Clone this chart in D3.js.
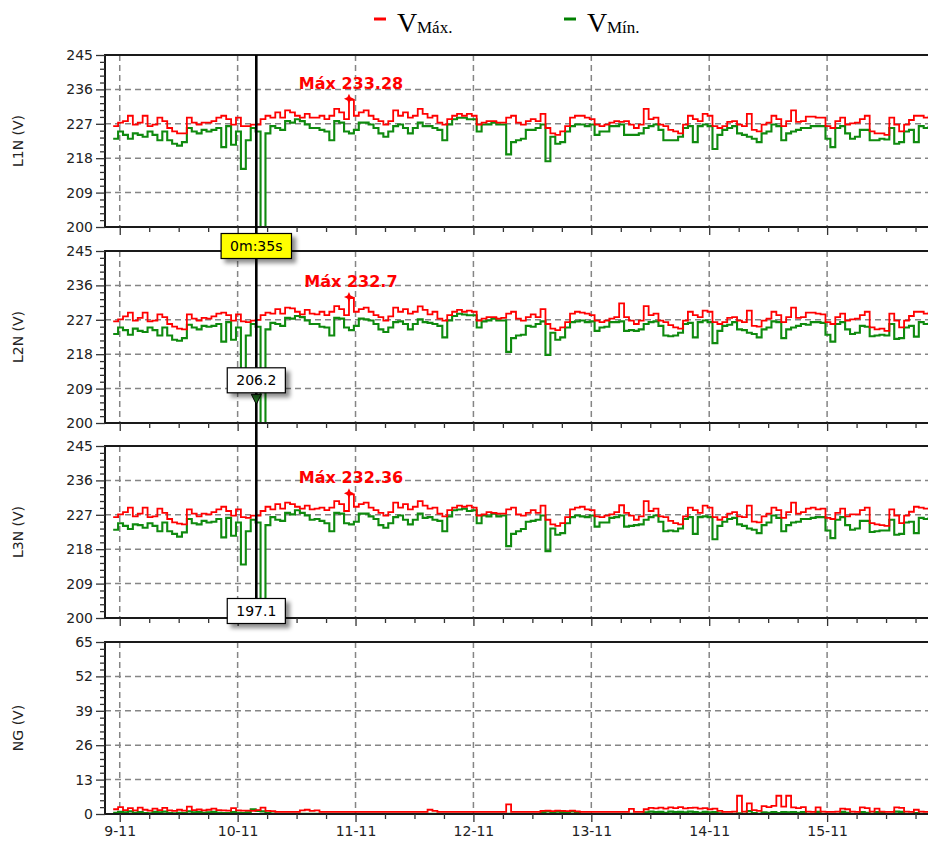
<!DOCTYPE html>
<html>
<head>
<meta charset="utf-8">
<script src="https://cdn.jsdelivr.net/npm/d3@7"></script>
<style>
  body { margin: 0; background: #fff; }
  svg { display: block; }
  text { font-family: "DejaVu Sans", sans-serif; }
</style>
</head>
<body>
<svg id="chart" width="928" height="841"></svg>
<script>
// ---- Hourly voltage records (V) from 8-11 22:40 onward ----
const l1Max = [
  226.4,227.3,227.7,229.1,226.8,227.3,229.1,226.4,226.8,228.6,227.7,225.9,225.0,224.5,224.5,228.6,227.3,226.8,227.3,227.3,227.7,228.6,229.1,228.2,226.8,228.6,226.4,226.4,226.8,226.8,228.2,229.1,228.6,230.0,228.6,230.5,230.0,229.1,228.6,229.6,228.6,
  228.6,229.1,228.2,229.1,230.9,230.0,228.2,233.28,229.1,230.0,230.5,229.1,228.2,227.7,226.8,227.7,230.5,229.1,230.0,228.6,229.1,230.9,229.6,228.6,229.1,227.3,226.8,228.2,229.1,229.6,229.1,229.6,229.1,226.8,227.3,227.7,227.7,227.3,227.3,228.6,229.1,
  227.3,226.8,227.7,228.2,227.7,229.6,225.9,224.5,224.1,225.0,226.4,228.6,229.1,229.1,228.6,228.2,226.8,226.4,226.8,227.3,227.7,227.5,227.7,226.8,225.9,226.8,230.9,228.2,228.6,226.8,226.4,225.4,225.0,224.5,226.8,229.1,228.2,227.7,229.6,229.1,226.4,225.9,
  226.4,227.5,227.7,226.8,226.4,229.6,225.4,225.0,226.8,227.3,229.1,228.2,226.4,227.7,230.5,227.5,227.7,228.9,228.9,228.6,228.6,226.4,225.9,227.7,228.6,226.8,227.1,227.3,228.2,229.1,225.0,224.5,224.5,224.1,228.6,226.8,225.0,226.8,228.0,229.1,229.1,228.6,229.1
];
const l1Min = [
  223.1,225.0,224.1,223.1,224.5,224.1,223.6,225.0,224.1,222.7,225.0,222.7,221.8,221.3,222.2,225.9,225.0,224.5,225.4,225.0,225.4,225.9,220.9,226.4,221.5,225.0,215.2,222.7,225.9,225.0,195.0,224.5,226.4,225.9,225.4,227.7,227.3,228.2,227.7,226.8,225.9,
  225.9,225.4,225.0,222.7,227.7,227.3,225.0,224.5,225.4,227.3,227.3,226.8,225.9,224.5,223.6,225.0,226.4,226.8,225.9,224.5,225.9,227.3,226.4,226.4,225.9,225.4,222.7,226.8,228.2,228.6,228.6,228.2,228.2,225.0,226.8,226.8,227.3,226.8,226.8,219.0,222.2,
  222.7,223.1,225.4,225.4,225.9,226.8,217.2,223.6,221.8,222.2,225.0,226.4,226.8,226.8,226.4,226.8,224.1,225.0,225.0,226.4,226.4,226.8,224.1,224.1,224.1,224.5,225.9,226.4,226.8,225.4,222.7,222.7,222.7,223.6,225.9,226.4,222.2,226.4,226.8,226.4,220.4,224.1,
  225.4,225.9,226.4,224.5,224.1,223.6,223.1,222.2,224.5,225.0,226.8,226.4,222.7,224.5,225.0,225.4,225.9,225.9,226.4,226.4,226.4,223.1,220.9,225.9,226.4,224.5,223.1,223.6,225.4,225.4,222.7,222.7,223.1,222.9,225.9,221.8,222.2,225.0,225.4,222.2,226.4,225.9,226.4
];
const l2Max = [
  226.6,227.1,227.9,228.9,226.8,227.5,228.9,226.6,226.8,228.4,227.7,225.9,225.2,224.7,224.5,228.4,227.3,226.8,227.5,227.3,227.9,228.6,228.9,228.2,226.8,228.4,226.6,226.4,226.8,227.0,228.2,228.9,228.6,229.8,228.6,230.2,230.0,229.1,228.4,229.6,228.6,
  228.4,229.1,228.2,229.1,230.6,229.8,228.2,232.7,229.1,229.8,230.2,229.1,228.2,227.7,226.8,227.9,230.2,229.1,229.8,228.6,229.1,230.5,229.6,228.4,229.1,227.3,226.8,228.2,229.1,229.6,229.1,229.4,229.1,226.8,227.3,227.7,227.7,227.3,227.5,228.6,229.1,
  227.3,226.8,227.7,228.4,227.7,229.8,225.9,224.7,224.3,225.0,226.4,228.6,229.1,228.9,228.6,228.2,226.8,226.4,226.8,227.3,227.7,231.3,227.7,226.8,225.9,226.8,230.6,228.2,228.6,226.8,226.4,225.6,225.0,224.7,226.8,229.1,228.2,227.7,229.4,229.1,226.4,225.9,
  226.4,227.5,227.7,226.8,226.4,229.4,225.4,225.2,226.8,227.3,229.1,228.2,226.4,227.7,230.2,227.5,227.7,228.9,228.9,228.6,228.4,226.4,225.9,227.7,228.6,226.8,227.1,227.3,228.2,229.1,225.0,224.5,224.7,224.1,228.6,226.8,225.0,226.8,228.0,229.1,229.1,228.6,229.1
];
const l2Min = [
  223.3,225.0,224.3,223.1,224.7,224.1,223.8,225.0,224.3,222.9,225.0,222.9,221.8,221.5,222.2,225.7,225.0,224.5,225.4,225.2,225.4,225.9,221.3,226.4,221.8,225.0,213.5,222.9,225.9,225.2,199.0,224.5,226.2,225.9,225.4,227.5,227.3,228.0,227.7,226.8,225.9,
  225.9,225.2,225.0,222.9,227.5,227.3,225.0,224.3,225.4,227.3,227.1,226.8,225.9,224.5,223.8,225.0,226.4,226.6,225.9,224.5,225.9,227.1,226.4,226.2,225.9,225.4,222.4,226.8,228.0,228.6,228.4,228.2,228.2,225.0,226.6,226.8,227.3,226.8,226.8,218.6,222.2,
  222.9,223.1,225.4,225.2,225.9,226.6,217.8,223.6,221.8,222.4,225.0,226.4,226.6,226.8,226.4,226.6,224.1,225.0,225.2,226.4,226.4,226.6,224.1,224.3,224.1,224.5,225.9,226.4,226.6,225.4,222.9,222.7,222.9,223.6,225.9,226.2,222.4,226.4,226.8,226.4,220.9,224.1,
  225.4,225.7,226.4,224.5,224.3,223.6,223.3,222.4,224.5,225.0,226.6,226.4,222.2,224.5,225.0,225.4,225.9,225.7,226.4,226.4,226.2,223.1,221.3,225.9,226.4,224.5,223.3,223.6,225.4,225.2,222.7,222.9,223.1,222.9,225.9,222.0,222.2,225.0,225.4,222.6,226.4,225.9,226.2
];
const l3Max = [
  226.4,227.1,227.7,228.9,226.6,227.3,228.9,226.4,226.6,228.6,227.5,225.9,225.0,224.7,224.5,228.4,227.3,226.6,227.3,227.1,227.7,228.4,229.1,228.0,226.8,228.4,226.4,226.2,226.8,226.8,228.0,229.1,228.4,229.8,228.6,230.2,229.8,229.1,228.6,229.4,228.4,
  228.6,228.9,228.2,228.9,230.6,229.8,228.0,232.36,229.1,229.8,230.2,228.9,228.2,227.5,226.8,227.7,230.2,228.9,229.8,228.4,229.1,230.6,229.4,228.6,228.9,227.3,226.6,228.2,228.9,229.4,229.1,229.4,228.9,226.8,227.1,227.7,227.5,227.3,227.3,228.4,228.9,
  227.1,226.8,227.5,228.2,227.5,229.4,225.7,224.5,224.1,224.8,226.4,228.4,228.9,229.1,228.4,228.2,226.6,226.4,226.8,227.1,227.7,229.5,227.5,226.8,225.7,226.6,230.6,228.0,228.6,226.6,226.4,225.4,224.8,224.5,226.6,228.9,228.2,227.5,229.4,228.9,226.4,225.7,
  226.4,227.3,227.7,226.6,226.4,229.4,225.2,225.0,226.6,227.3,228.9,228.2,226.2,227.7,230.2,227.3,227.7,228.6,228.9,228.4,228.6,226.2,225.9,227.5,228.6,226.6,227.1,227.1,228.2,228.9,224.8,224.5,224.3,224.1,228.4,226.8,224.8,226.8,227.8,229.1,228.9,228.6,228.9
];
const l3Min = [
  223.1,224.8,224.1,223.3,224.5,224.3,223.6,224.8,224.1,222.7,225.0,222.7,222.0,221.3,222.4,225.9,224.8,224.5,225.4,225.0,225.2,225.9,221.1,226.2,221.5,225.0,214.0,222.7,225.7,225.0,190.0,224.3,226.4,225.7,225.4,227.5,227.1,228.2,227.5,226.8,225.7,
  225.9,225.4,224.8,222.7,227.5,227.3,224.8,224.5,225.2,227.3,227.3,226.6,225.9,224.3,223.6,224.8,226.4,226.8,225.7,224.5,225.7,227.3,226.2,226.4,225.7,225.4,222.7,226.6,228.2,228.4,228.6,228.0,228.2,224.8,226.8,226.6,227.3,226.6,226.8,218.8,222.0,
  222.7,223.3,225.2,225.4,225.7,226.8,217.5,223.4,221.8,222.2,224.8,226.4,226.8,226.6,226.4,226.8,223.9,225.0,225.0,226.2,226.4,226.8,223.9,224.1,224.3,224.5,225.7,226.4,226.8,225.2,222.7,222.9,222.7,223.4,225.9,226.4,222.0,226.4,226.6,226.4,220.6,224.1,
  225.2,225.9,226.2,224.5,224.1,223.4,223.1,222.2,224.3,225.0,226.8,226.2,222.7,224.3,225.0,225.2,225.9,225.9,226.2,226.4,226.4,222.9,220.9,225.7,226.4,224.3,223.1,223.4,225.4,225.4,222.5,222.7,222.9,222.9,225.7,221.8,222.0,225.0,225.2,222.2,226.2,225.9,226.4
];
const ngMax = [
  1.8,2.6,1.5,2.2,1.4,2.4,1.6,1.3,2.0,1.5,2.3,1.4,1.2,1.6,1.3,2.8,1.5,1.7,1.4,1.6,2.0,1.5,1.4,1.3,2.2,1.4,1.3,1.3,1.2,1.5,2.4,1.2,1.1,
  0.8,0.8,0.8,0.8,0.8,1.4,1.6,1.2,1.4,
  0.8,0.8,0.8,0.8,0.8,0.8,0.8,0.8,0.8,0.8,0.8,0.8,0.8,0.8,0.8,0.8,0.8,0.8,0.8,0.8,0.8,0.8,
  1.6,1.2,
  0.8,0.8,0.8,0.8,0.8,0.8,0.8,0.8,0.8,0.8,0.8,0.8,0.8,0.8,
  3.6,0.8,0.8,0.8,0.8,0.8,0.8,
  1.2,1.3,1.1,1.3,1.2,1.1,1.3,1.0,
  0.8,0.8,0.8,0.8,0.8,0.8,0.8,0.8,0.8,0.8,
  1.9,0.8,0.8,
  1.8,2.3,2.1,2.4,2.0,2.5,2.2,2.6,2.1,2.3,2.4,2.0,2.2,1.8,2.0,1.2,
  0.8,0.8,0.9,6.9,0.9,4.0,1.5,1.2,3.0,2.6,3.1,6.9,2.8,6.9,2.5,2.2,2.6,0.9,0.8,2.5,0.9,0.8,0.8,0.9,2.0,1.8,0.9,0.8,2.5,2.2,0.9,2.0,0.9,0.8,0.8,2.5,2.3,0.9,0.8,1.6,0.9,0.8,0.8
];
const ngMin = [
  0.5,0.8,0.6,1.0,0.5,0.7,0.4,0.3,0.8,0.6,0.9,0.4,0.3,0.5,0.4,1.0,0.6,0.7,0.5,0.6,0.8,0.5,0.4,0.4,0.7,0.5,0.4,0.6,1.8,1.2,1.0,0.4,0.2,
  0.1,0.1,0.1,0.1,0.1,0.1,0.1,0.1,0.1,0.1,0.1,0.1,0.1,0.1,0.1,0.1,0.1,0.1,0.1,0.1,0.1,0.1,0.1,0.1,0.1,0.1,0.1,
  0.1,0.1,0.1,0.1,0.1,0.1,0.1,0.1,0.1,0.1,0.1,0.1,0.1,0.1,0.1,0.1,0.1,0.1,0.1,0.1,0.1,0.1,0.1,0.1,0.1,0.1,0.1,
  0.8,1.0,0.7,0.9,0.8,0.7,1.0,0.6,
  0.1,0.1,0.1,0.1,0.1,0.1,0.1,0.1,0.1,0.1,0.1,0.1,0.1,
  0.6,0.9,0.7,0.8,0.5,0.9,0.7,0.8,0.6,0.9,0.7,0.5,0.8,0.6,0.7,0.3,
  0.1,0.1,0.1,0.3,0.1,1.1,0.4,0.1,0.6,0.5,0.7,0.4,0.7,0.6,0.7,0.5,0.7,0.1,0.1,0.8,0.1,0.1,0.1,0.1,0.8,0.5,0.1,0.1,0.7,0.5,0.1,0.7,0.6,0.1,0.1,0.9,0.8,0.1,0.1,0.4,0.1,0.1,0.1
];

// Axis definitions
const axisTitles = ["L1N (V)", "L2N (V)", "L3N (V)", "NG (V)"];
const voltTicks = [200, 209, 218, 227, 236, 245];
const ngTicks = [0, 13, 26, 39, 52, 65];
const dayLabels = ["9-11", "10-11", "11-11", "12-11", "13-11", "14-11", "15-11"];

// Cursor readout (10-11 03:48) and event duration
const cursorTime = new Date(2021, 10, 10, 3, 48);
const cursorMinValues = [null, 206.2, 197.1];
const eventDuration = "0m:35s";

// Legend entries
const legendItems = [
  { name: "Máx.", color: "#ff0000" },
  { name: "Mín.", color: "#008000" }
];

// ---- Layout ----
const plotLeft = 105, plotRight = 945;
const panelTops = [55, 251, 446, 642];
const panelH = 172;
const RED = "#ff0000", GREEN = "#0f8a0f";

const firstSample = new Date(2021, 10, 8, 22, 40);
const sampleTimes = l1Max.map((_, i) => new Date(+firstSample + i * 3600e3));

const x = d3.scaleTime()
  .domain([new Date(2021, 10, 8, 21, 0), new Date(2021, 10, 16, 0, 0)])
  .range([plotLeft, plotRight]);

const dayTimes = dayLabels.map((_, i) => new Date(2021, 10, 9 + i));
const quarterTimes = d3.timeHour.every(6).range(x.domain()[0], x.domain()[1])
  .filter(t => t.getHours() !== 0);

const panels = [
  { title: axisTitles[0], max: l1Max, min: l1Min, ticks: voltTicks },
  { title: axisTitles[1], max: l2Max, min: l2Min, ticks: voltTicks },
  { title: axisTitles[2], max: l3Max, min: l3Min, ticks: voltTicks },
  { title: axisTitles[3], max: ngMax, min: ngMin, ticks: ngTicks }
];

const svg = d3.select("#chart");
const defs = svg.append("defs");
const shadow = defs.append("filter").attr("id", "shadow")
  .attr("x", "-20%").attr("y", "-30%").attr("width", "150%").attr("height", "180%");
shadow.append("feDropShadow").attr("dx", 4).attr("dy", 4)
  .attr("stdDeviation", 2).attr("flood-color", "#000").attr("flood-opacity", 0.45);

// Legend
const legend = svg.append("g");
[[374, 397, 417], [564, 587, 607]].forEach((pos, k) => {
  const item = legendItems[k];
  legend.append("line").attr("x1", pos[0]).attr("x2", pos[0] + 12)
    .attr("y1", 19).attr("y2", 19).attr("stroke", item.color).attr("stroke-width", 3);
  legend.append("text").attr("x", pos[1]).attr("y", 32)
    .style("font-family", "'Liberation Serif', 'DejaVu Serif', serif")
    .style("font-size", "28px").attr("fill", "#000").text("V");
  legend.append("text").attr("x", pos[2]).attr("y", 33)
    .style("font-family", "'Liberation Serif', 'DejaVu Serif', serif")
    .style("font-size", "17px").attr("fill", "#000").text(item.name);
});

function labelBox(cx, cy, text, fill) {
  const g = svg.append("g");
  const r = g.append("rect").attr("fill", fill).attr("stroke", "#000")
    .attr("stroke-width", 1.2).attr("filter", "url(#shadow)");
  const t = g.append("text").attr("x", cx).attr("y", cy).attr("dy", "0.36em")
    .attr("text-anchor", "middle").style("font-size", "14px").attr("fill", "#000").text(text);
  const w = t.node().getComputedTextLength() + 18;
  r.attr("x", cx - w / 2).attr("y", cy - 12.5).attr("width", w).attr("height", 25);
  return g;
}

const yScales = [];

panels.forEach((p, k) => {
  const top = panelTops[k], bottom = top + panelH;
  const y = d3.scaleLinear().domain([p.ticks[0], p.ticks[p.ticks.length - 1]]).range([bottom, top]);
  yScales.push(y);
  const g = svg.append("g");

  const clipId = "clip" + k;
  defs.append("clipPath").attr("id", clipId).append("rect")
    .attr("x", plotLeft).attr("y", top).attr("width", plotRight - plotLeft).attr("height", panelH);

  // dashed grid
  const grid = g.append("g").attr("stroke", "#858585").attr("stroke-width", 1.5)
    .attr("stroke-dasharray", "6,4");
  grid.selectAll(".h").data(p.ticks.slice(1, -1)).join("line")
    .attr("x1", plotLeft).attr("x2", plotRight)
    .attr("y1", d => y(d)).attr("y2", d => y(d));
  grid.selectAll(".v").data(dayTimes).join("line")
    .attr("x1", d => x(d)).attr("x2", d => x(d))
    .attr("y1", top).attr("y2", bottom);

  // series (min below, max on top)
  const lines = g.append("g").attr("clip-path", `url(#${clipId})`);
  const line = d3.line().curve(d3.curveStepAfter)
    .x((d, i) => x(sampleTimes[i])).y(d => y(d));
  lines.append("path").datum(p.min).attr("d", line)
    .attr("fill", "none").attr("stroke", GREEN).attr("stroke-width", 2.1);
  lines.append("path").datum(p.max).attr("d", line)
    .attr("fill", "none").attr("stroke", RED).attr("stroke-width", 1.8);

  // frame
  g.append("rect").attr("x", plotLeft).attr("y", top)
    .attr("width", plotRight - plotLeft).attr("height", panelH)
    .attr("fill", "none").attr("stroke", "#1a1a1a").attr("stroke-width", 2);

  // left axis with minor ticks
  const step = (p.ticks[1] - p.ticks[0]) / 5;
  const minor = d3.range(p.ticks[0], p.ticks[p.ticks.length - 1] + 1e-9, step)
    .filter(v => !p.ticks.some(t => Math.abs(t - v) < 1e-6));
  const yMinor = g.append("g").attr("transform", `translate(${plotLeft},0)`)
    .call(d3.axisLeft(y).tickValues(minor).tickSize(5).tickFormat(""));
  const yAxis = g.append("g").attr("transform", `translate(${plotLeft},0)`)
    .call(d3.axisLeft(y).tickValues(p.ticks).tickSize(9).tickPadding(3));
  [yMinor, yAxis].forEach(a => {
    a.select(".domain").remove();
    a.selectAll("line").attr("stroke", "#333").attr("stroke-width", 1.3);
  });
  yAxis.selectAll("text").style("font-size", "14px").attr("fill", "#222");

  // bottom axis with minor ticks
  const xMinor = g.append("g").attr("transform", `translate(0,${bottom})`)
    .call(d3.axisBottom(x).tickValues(quarterTimes).tickSize(5).tickFormat(""));
  const xAxis = g.append("g").attr("transform", `translate(0,${bottom})`)
    .call(d3.axisBottom(x).tickValues(dayTimes).tickSize(8).tickPadding(4)
      .tickFormat((d, i) => k === panels.length - 1 ? dayLabels[i] : ""));
  [xMinor, xAxis].forEach(a => {
    a.select(".domain").remove();
    a.selectAll("line").attr("stroke", "#333").attr("stroke-width", 1.3);
  });
  xAxis.selectAll("text").style("font-size", "14px").attr("fill", "#222");

  // axis title
  g.append("text")
    .attr("transform", `translate(23,${(top + bottom) / 2}) rotate(-90)`)
    .attr("text-anchor", "middle").style("font-size", "14px").attr("fill", "#222")
    .text(p.title);
});

// cursor line across the three phase panels
const cx = x(cursorTime);
svg.append("line").attr("x1", cx).attr("x2", cx)
  .attr("y1", panelTops[0]).attr("y2", panelTops[2] + panelH)
  .attr("stroke", "#000").attr("stroke-width", 2.6);

// maximum markers
panels.slice(0, 3).forEach((p, k) => {
  const y = yScales[k];
  const idx = d3.maxIndex(p.max);
  const mx = x(sampleTimes[idx]), my = y(p.max[idx]);
  svg.append("path")
    .attr("d", "M0,-5L1.6,-1.6L5,0L1.6,1.6L0,5L-1.6,1.6L-5,0L-1.6,-1.6Z")
    .attr("transform", `translate(${mx},${my - 1})`).attr("fill", RED);
  svg.append("text").attr("x", mx + 2).attr("y", my - 11)
    .attr("text-anchor", "middle").style("font-size", "16px").style("font-weight", "bold")
    .attr("fill", RED).text("Máx " + p.max[idx]);
});

// cursor readouts
cursorMinValues.forEach((v, k) => {
  if (v == null) return;
  const y = yScales[k];
  const [lo] = y.domain();
  const bottom = panelTops[k] + panelH;
  if (v >= lo) {
    const vy = y(v);
    svg.append("path").attr("d", `M${cx - 5},${vy - 5}L${cx + 5},${vy - 5}L${cx},${vy + 5}Z`)
      .attr("fill", "#1d6b1d").attr("stroke", "#000").attr("stroke-width", 1);
    labelBox(cx, vy - 19, String(v), "#fff");
  } else {
    labelBox(cx, bottom - 7, String(v), "#fff");
  }
});

// event duration tag under the first panel
labelBox(cx, panelTops[0] + panelH + 19, eventDuration, "#ffff00");
</script>
</body>
</html>
